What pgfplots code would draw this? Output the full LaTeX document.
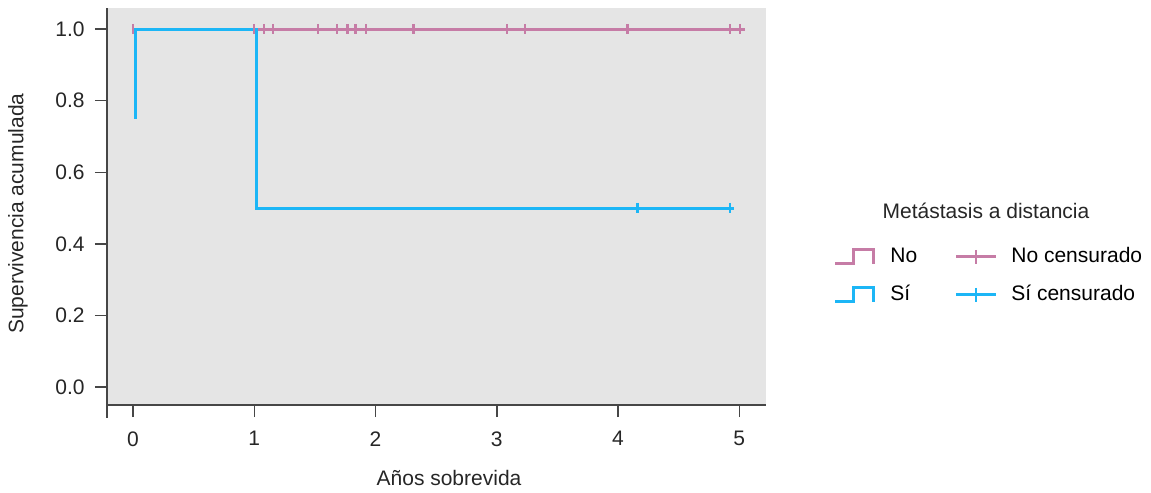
\documentclass[border=0pt]{standalone}
\usepackage{pgfplots}
\pgfplotsset{compat=1.18}
\usepackage{fontspec}
\setmainfont{Liberation Sans}
\definecolor{kmpink}{RGB}{198,124,166}
\definecolor{kmblue}{RGB}{28,182,246}
\definecolor{panel}{RGB}{229,229,229}
\definecolor{axisgray}{RGB}{70,70,70}

\begin{document}
\begin{tikzpicture}
\fontsize{10.5}{12.6}\selectfont
\begin{axis}[
    name=ax,
    scale only axis,
    width=329.5pt, height=198.5pt,
    xmin=-0.215, xmax=5.22,
    ymin=-0.05, ymax=1.059,
    axis x line*=bottom, axis y line*=left,
    axis line style={-, axisgray, line width=0.7pt},
    axis background/.style={fill=panel},
    xtick={0,1,2,3,4,5},
    ytick={0,0.2,0.4,0.6,0.8,1},
    yticklabel style={/pgf/number format/fixed,
        /pgf/number format/fixed zerofill,
        /pgf/number format/precision=1, xshift=-1.5pt},
    xticklabel style={yshift=-3.5pt},
    /pgf/number format/assume math mode=true,
    ticklabel style={font=\fontsize{10.5}{12.6}\selectfont, black!85},
    tick align=outside,
    major tick length=6pt,
    tick style={axisgray, line width=0.7pt},
    clip=false,
    xlabel={Años sobrevida},
    ylabel={Supervivencia acumulada},
    label style={font=\fontsize{10.5}{12.6}\selectfont, black!85},
    xlabel style={at={(axis description cs:0.519,-0.184)}, anchor=center},
    ylabel style={at={(axis description cs:-0.135,0.482)}, anchor=center, rotate=0},
]
% No: line
\addplot[kmpink, line width=1.5pt] coordinates {(0,1) (5.05,1)};
% No: censored
\addplot[only marks, kmpink, mark=|, mark size=2.6pt, mark options={line width=1.1pt}]
  coordinates {
    (0,1) (0.998,1) (1.083,1) (1.152,1) (1.528,1) (1.68,1) (1.768,1)
    (1.834,1) (1.922,1) (2.313,1) (3.083,1) (3.234,1) (4.078,1)
    (4.92,1) (5.003,1)
  };
% Sí: line
\addplot[kmblue, line width=1.5pt] coordinates {
    (0.017,0.75) (0.017,1) (1.02,1) (1.02,0.5) (4.96,0.5)
  };
% Sí: censored
\addplot[only marks, kmblue, mark=|, mark size=2.6pt, mark options={line width=1.1pt}]
  coordinates {(4.16,0.5) (4.92,0.5)};
\end{axis}

\begin{scope}[x=0.5pt, y=-0.5pt, shift={(ax.south west)}, shift={(-107,-405)}]
  \path (0,0) rectangle (1151,489);
  \draw[axisgray, line width=0.7pt] (107,405) -- (107,418);
  % legend
  \node[anchor=base, black!85] at (986,219) {Metástasis a distancia};
  \draw[kmpink, line width=1.5pt] (835,264) -- (853,264) -- (853,250) -- (873,250) -- (873,264);
  \draw[kmblue, line width=1.5pt] (835,302) -- (853,302) -- (853,288) -- (873,288) -- (873,302);
  \node[anchor=base west, inner sep=0pt] at (890,262.5) {No};
  \node[anchor=base west, inner sep=0pt] at (890,300.5) {Sí};
  \draw[kmpink, line width=1.5pt] (956,257) -- (996,257);
  \draw[kmpink, line width=1.1pt] (976,250) -- (976,264);
  \draw[kmblue, line width=1.5pt] (956,295) -- (996,295);
  \draw[kmblue, line width=1.1pt] (976,288) -- (976,302);
  \node[anchor=base west, inner sep=0pt] at (1011,262.5) {No censurado};
  \node[anchor=base west, inner sep=0pt] at (1011,300.5) {Sí censurado};
\end{scope}
\end{tikzpicture}
\end{document}
